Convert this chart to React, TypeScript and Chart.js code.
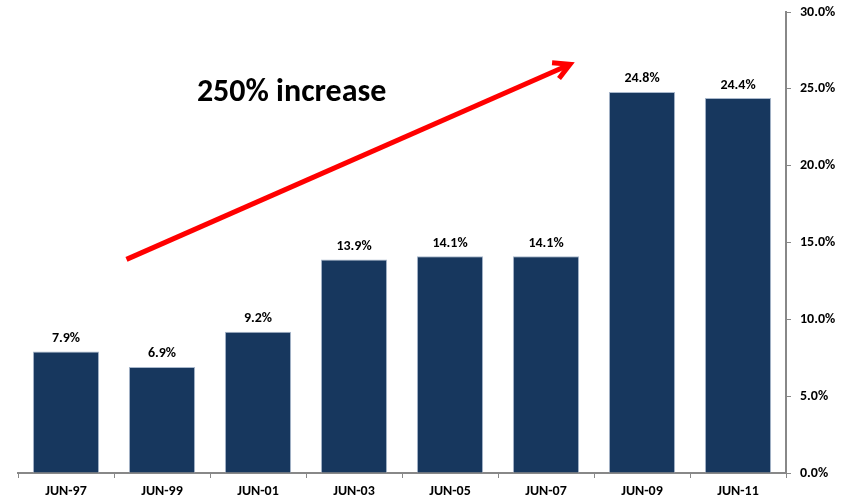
import React, { useEffect, useRef } from "react";
import { Chart, registerables } from "chart.js";

Chart.register(...registerables);

const categories = ["JUN-97", "JUN-99", "JUN-01", "JUN-03", "JUN-05", "JUN-07", "JUN-09", "JUN-11"];
const values = [7.9, 6.9, 9.2, 13.9, 14.1, 14.1, 24.8, 24.4];
const yTicks = [0, 5, 10, 15, 20, 25, 30];
const annotationText = "250% increase";
// arrow in data space: [category index, value]
const arrowStart = [0.63, 13.9];
const arrowEnd = [5.25, 26.6];
const textAnchor = [2.35, 24.7];

const FONT = "Carlito, 'Open Sans', 'Liberation Sans', sans-serif";

const overlayPlugin = {
  id: "overlay",
  afterDatasetsDraw(chart: any) {
    const { ctx, scales } = chart;
    const meta = chart.getDatasetMeta(0);
    ctx.save();
    ctx.fillStyle = "#000";
    ctx.font = `bold 14px ${FONT}`;
    ctx.textAlign = "center";
    ctx.textBaseline = "bottom";
    meta.data.forEach((bar: any, i: number) => {
      ctx.fillText(values[i].toFixed(1) + "%", bar.x, bar.y - 6);
    });
    // arrow
    const x1 = scales.x.getPixelForValue(arrowStart[0]);
    const y1 = scales.y.getPixelForValue(arrowStart[1]);
    const x2 = scales.x.getPixelForValue(arrowEnd[0]);
    const y2 = scales.y.getPixelForValue(arrowEnd[1]);
    ctx.strokeStyle = "#ff0000";
    ctx.lineWidth = 5;
    ctx.lineCap = "butt";
    ctx.beginPath();
    ctx.moveTo(x1, y1);
    ctx.lineTo(x2 - 3, y2 + 1.5);
    ctx.stroke();
    const ang = Math.atan2(y2 - y1, x2 - x1);
    const L = 18;
    ctx.lineJoin = "miter";
    ctx.beginPath();
    ctx.moveTo(x2 - L * Math.cos(ang - 0.5), y2 - L * Math.sin(ang - 0.5));
    ctx.lineTo(x2, y2);
    ctx.lineTo(x2 - L * Math.cos(ang + 0.5), y2 - L * Math.sin(ang + 0.5));
    ctx.stroke();
    // text
    const tx = scales.x.getPixelForValue(textAnchor[0]);
    const ty = scales.y.getPixelForValue(textAnchor[1]);
    ctx.fillStyle = "#000";
    ctx.font = `bold 32px ${FONT}`;
    ctx.textAlign = "center";
    ctx.textBaseline = "middle";
    ctx.fillText(annotationText, tx, ty);
    ctx.restore();
  },
};

function zeroPad(axis: any) {
  axis.paddingTop = 0;
  axis.paddingBottom = 0;
  axis.paddingLeft = 0;
  axis.paddingRight = 0;
}

export default function App() {
  const ref = useRef<HTMLCanvasElement>(null);
  useEffect(() => {
    document.body.style.margin = "0";
    const chart = new Chart(ref.current!, {
      type: "bar",
      data: {
        labels: categories,
        datasets: [
          {
            data: values,
            backgroundColor: "#17375e",
            borderColor: "#a9b8cc",
            borderWidth: 1,
            categoryPercentage: 1,
            barPercentage: 0.69,
          },
        ],
      },
      options: {
        animation: false,
        responsive: false,
        maintainAspectRatio: false,
        layout: { padding: { top: 12, left: 18, right: 0, bottom: 0 } },
        plugins: { legend: { display: false }, tooltip: { enabled: false } },
        scales: {
          x: {
            grid: { display: true, drawOnChartArea: false, drawTicks: true, tickLength: 5, color: "#888", offset: true },
            border: { display: true, color: "#888", width: 2 },
            ticks: { color: "#000", font: { family: FONT, size: 14, weight: "bold" }, padding: 5, maxRotation: 0 },
            afterFit(axis: any) {
              axis.height = 30;
              zeroPad(axis);
            },
          },
          y: {
            position: "right",
            min: 0,
            max: 30,
            afterBuildTicks(axis: any) {
              axis.ticks = yTicks.map((v) => ({ value: v }));
            },
            grid: { display: true, drawOnChartArea: false, drawTicks: true, tickLength: 5, color: "#888" },
            border: { display: true, color: "#888", width: 2 },
            ticks: {
              color: "#000",
              font: { family: FONT, size: 14, weight: "bold" },
              padding: 9,
              callback: (v: any) => Number(v).toFixed(1) + "%",
            },
            afterFit(axis: any) {
              axis.width = 65;
              zeroPad(axis);
            },
          },
        },
      },
      plugins: [overlayPlugin],
    });
    return () => chart.destroy();
  }, []);
  return <canvas ref={ref} width={851} height={503} style={{ display: "block" }} />;
}
